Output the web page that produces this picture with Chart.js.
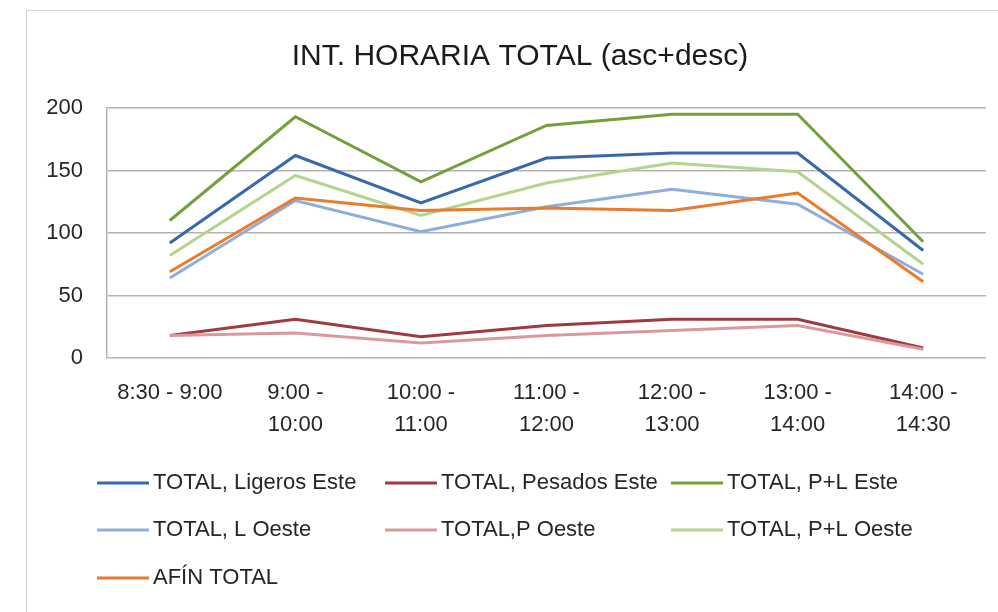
<!DOCTYPE html>
<html>
<head>
<meta charset="utf-8">
<script src="https://cdn.jsdelivr.net/npm/chart.js@4.4.1/dist/chart.umd.min.js"></script>
<style>
  html, body { margin: 0; padding: 0; background: #fff; }
  #wrap { position: relative; width: 998px; height: 612px; overflow: hidden; }
  #frame { position: absolute; left: 26px; top: 10px; width: 1000px; height: 640px; border: 1.5px solid #d4d4d4; box-sizing: border-box; }
  canvas { position: absolute; left: 0; top: 0; }
</style>
</head>
<body>
<div id="wrap">
  <div id="frame"></div>
  <canvas id="lineChart" width="998" height="612"></canvas>
</div>
<script>
// Data
const chartTitle = 'INT. HORARIA TOTAL (asc+desc)';
const periods = ['8:30 - 9:00', ['9:00 -', '10:00'], ['10:00 -', '11:00'], ['11:00 -', '12:00'],
                 ['12:00 -', '13:00'], ['13:00 -', '14:00'], ['14:00 -', '14:30']];
const ligerosEste = [92, 162, 124, 160, 164, 164, 86];
const pesadosEste = [18, 31, 17, 26, 31, 31, 8];
const plEste = [110, 193, 141, 186, 195, 195, 93];
const lOeste = [64, 126, 101, 121, 135, 123, 67];
const pOeste = [18, 20, 12, 18, 22, 26, 7];
const plOeste = [82, 146, 114, 140, 156, 149, 75];
const afinTotal = [69, 128, 118, 120, 118, 132, 61];
const yTicks = [0, 50, 100, 150, 200];

const FONT = '"Liberation Sans", Arial, sans-serif';

// Title is centred on the whole (cropped) chart box, not the canvas,
// and the legend is a 3-column grid like the original
const legendCols = [97, 385, 671];
const legendRows = [483, 530, 578];
const titleAndLegend = {
    id: 'titleAndLegend',
    afterDraw(chart) {
        const ctx = chart.ctx;
        ctx.save();
        ctx.fillStyle = '#1a1a1a';
        ctx.font = '30px ' + FONT;
        ctx.textAlign = 'center';
        ctx.textBaseline = 'middle';
        ctx.fillText(chartTitle, 520, 57);

        ctx.font = '22px ' + FONT;
        ctx.textAlign = 'left';
        chart.data.datasets.forEach((ds, i) => {
            const x = legendCols[i % 3];
            const y = legendRows[Math.floor(i / 3)];
            ctx.strokeStyle = ds.borderColor;
            ctx.lineWidth = 3;
            ctx.beginPath();
            ctx.moveTo(x, y);
            ctx.lineTo(x + 52, y);
            ctx.stroke();
            ctx.fillStyle = '#262626';
            ctx.fillText(ds.label, x + 56, y);
        });
        ctx.restore();
    }
};

const series = [
    ['TOTAL, Ligeros Este', ligerosEste, '#3968AA'],
    ['TOTAL, Pesados Este', pesadosEste, '#9E3B3E'],
    ['TOTAL, P+L Este', plEste, '#74A03C'],
    ['TOTAL, L Oeste', lOeste, '#8FAEDC'],
    ['TOTAL,P Oeste', pOeste, '#DA9A9B'],
    ['TOTAL, P+L Oeste', plOeste, '#B5D48F'],
    ['AFÍN TOTAL', afinTotal, '#EA7B2D']
];

const ctx = document.getElementById('lineChart').getContext('2d');
new Chart(ctx, {
    type: 'line',
    data: {
        labels: periods,
        datasets: series.map((s, i) => ({
            label: s[0],
            data: s[1],
            borderColor: s[2],
            backgroundColor: s[2],
            borderWidth: 3,
            pointRadius: 0,
            tension: 0,
            fill: false,
            order: series.length - i
        }))
    },
    options: {
        responsive: false,
        animation: false,
        layout: { padding: { left: 0, right: 12, top: 108, bottom: 0 } },
        plugins: {
            legend: { display: false },
            tooltip: { enabled: false },
            title: { display: false }
        },
        scales: {
            x: {
                offset: true,
                grid: { display: false, drawTicks: false, offset: true },
                border: { display: false },
                ticks: {
                    color: '#262626',
                    font: { family: FONT, size: 22, lineHeight: 1.45 },
                    padding: 19,
                    maxRotation: 0,
                    minRotation: 0,
                    autoSkip: false
                },
                afterFit(scale) { scale.height = 254; }
            },
            y: {
                min: 0,
                max: 200,
                grid: { color: '#b3b3b3', lineWidth: 1.5, drawTicks: false },
                border: { display: true, color: '#b3b3b3', width: 1.5 },
                ticks: {
                    color: '#262626',
                    font: { family: FONT, size: 22 },
                    padding: 24
                },
                afterBuildTicks(scale) { scale.ticks = yTicks.map(v => ({ value: v })); },
                afterFit(scale) { scale.width = 107; }
            }
        }
    },
    plugins: [titleAndLegend]
});
</script>
</body>
</html>
